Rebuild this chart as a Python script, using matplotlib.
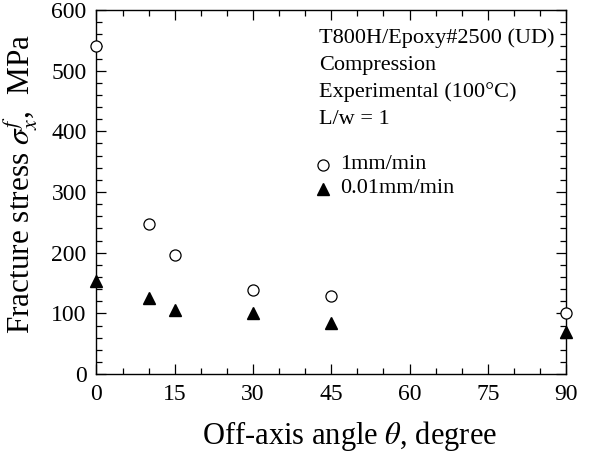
import matplotlib
matplotlib.use("Agg")
import matplotlib.pyplot as plt
from matplotlib.ticker import MultipleLocator

plt.rcParams["font.family"] = ["Liberation Serif", "DejaVu Serif"]
plt.rcParams["mathtext.fontset"] = "stix"

# angle (deg) and fracture stress (MPa)
angle = [0, 10, 15, 30, 45, 90]
stress_fast = [540, 247, 196, 138, 128, 101]   # 1mm/min
stress_slow = [153, 126, 105, 100, 85, 69]     # 0.01mm/min

fig = plt.figure(figsize=(5.99, 4.54), dpi=100)
ax = fig.add_axes([0.161, 0.176, 0.784, 0.802])

ax.plot(angle, stress_fast, linestyle="", marker="o", ms=8, mfc="white",
        mec="black", mew=0.9, clip_on=False, zorder=3)
ax.plot(angle, stress_slow, linestyle="", marker="^", ms=8, color="black",
        clip_on=False, zorder=3)

ax.set_xlim(0, 90)
ax.set_ylim(0, 600)
ax.xaxis.set_major_locator(MultipleLocator(15))
ax.xaxis.set_minor_locator(MultipleLocator(5))
ax.yaxis.set_major_locator(MultipleLocator(100))
ax.yaxis.set_minor_locator(MultipleLocator(20))
ax.tick_params(which="both", direction="in", top=True, right=True, width=0.9)
ax.tick_params(which="major", length=7, labelsize=17, pad=7)
ax.tick_params(which="minor", length=4)
for s in ax.spines.values():
    s.set_linewidth(1.0)

ax.set_xlabel(r"Off-axis angle $\theta$, degree", fontsize=22)
ax.set_ylabel(r"Fracture stress $\sigma_x^f$,  MPa", fontsize=22.5)
ax.xaxis.set_label_coords(0.538, -0.122)
ax.yaxis.set_label_coords(-0.12, 0.522)

lines = ["T800H/Epoxy#2500 (UD)", "Compression", "Experimental (100°C)", "L/w = 1"]
for i, t in enumerate(lines):
    ax.text(0.474, 0.922 - i * 0.074, t, transform=ax.transAxes, fontsize=16,
            va="center", ha="left")

ax.plot([0.483], [0.575], transform=ax.transAxes, marker="o", ms=8, mfc="white",
        mec="black", mew=0.9, linestyle="", clip_on=False)
ax.text(0.519, 0.575, "1mm/min", transform=ax.transAxes, fontsize=16, va="center")
ax.plot([0.483], [0.509], transform=ax.transAxes, marker="^", ms=8, color="black",
        linestyle="", clip_on=False)
ax.text(0.519, 0.509, "0.01mm/min", transform=ax.transAxes, fontsize=16, va="center")

fig.savefig("out.png", dpi=100)
